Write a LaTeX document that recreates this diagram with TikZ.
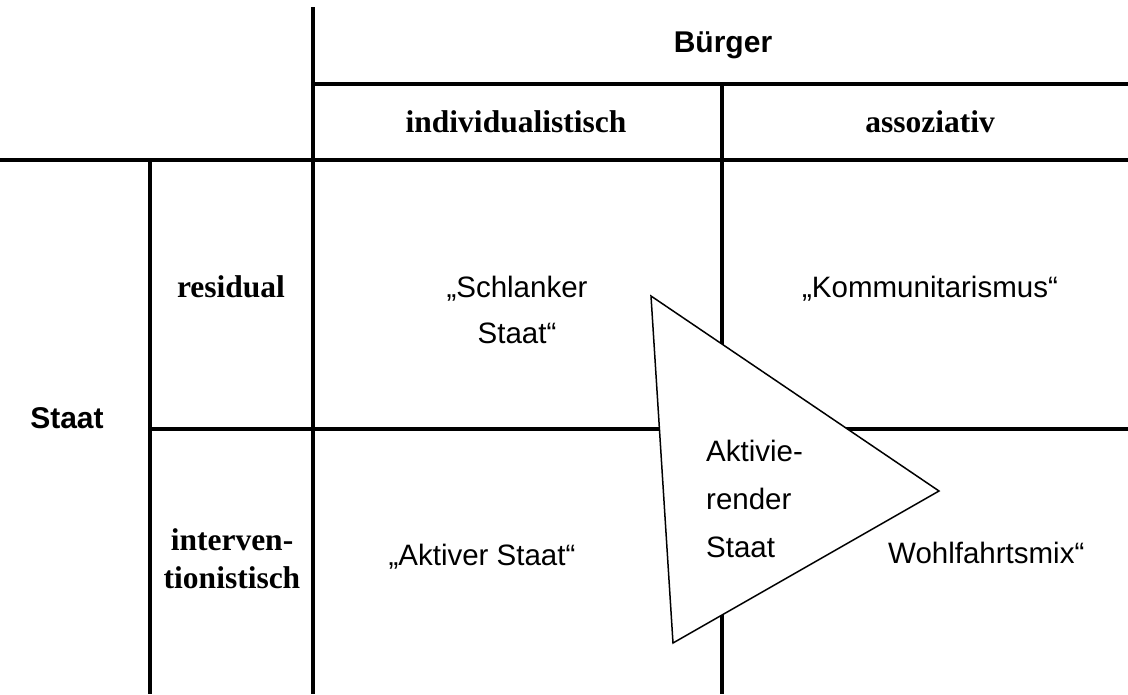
\documentclass[tikz,border=0pt]{standalone}
\usepackage{fontspec}
\setmainfont{Liberation Serif}
\setsansfont{Liberation Sans}
\usetikzlibrary{positioning}

\tikzset{
  gridline/.style={line width=4pt},
  axislabel/.style={font=\sffamily\bfseries\fontsize{30}{36}\selectfont, inner sep=0pt, anchor=base},
  typelabel/.style={font=\rmfamily\bfseries\fontsize{31.5}{38}\selectfont, inner sep=0pt, align=center, anchor=base},
  celltext/.style={font=\sffamily\fontsize{29.5}{46}\selectfont, inner sep=0pt, align=center, anchor=base},
}

\begin{document}
\begin{tikzpicture}[x=1pt,y=-1pt]
    \useasboundingbox (0,0) rectangle (1128,694);

    % Grid
    \draw[gridline] (313,7) -- (313,694);
    \draw[gridline] (313,84) -- (1128,84);
    \draw[gridline] (0,160) -- (1128,160);
    \draw[gridline] (150,160) -- (150,694);
    \draw[gridline] (150,429) -- (1128,429);
    \draw[gridline] (722,84) -- (722,694);

    % Headings
    \node[axislabel] (buerger) at (723,52) {Bürger};
    \node[axislabel] (staat) at (67,428) {Staat};
    \node[typelabel] (indiv) at (516,132) {individualistisch};
    \node[typelabel] (assoz) at (930,132) {assoziativ};
    \node[typelabel] (resid) at (231,297) {residual};
    \node[typelabel] (interv) at (232,588) {interven-\\tionistisch};

    % Cells
    \node[celltext] (schlank) at (517,343) {„Schlanker\\Staat“};
    \node[celltext] (kommun) at (930,297) {„Kommunitarismus“};
    \node[celltext] (aktiv) at (482,565) {„Aktiver Staat“};
    \node[celltext, anchor=base west] (wohlfahrt) at (888,563) {Wohlfahrtsmix“};

    % Triangle
    \coordinate (tritop) at (651,296);
    \coordinate (triright) at (939,491);
    \coordinate (tribottom) at (673,643);
    \draw[line width=1.5pt, fill=white, line join=miter] (tritop) -- (triright) -- (tribottom) -- cycle;
    \node[celltext, font=\sffamily\fontsize{29.5}{48}\selectfont, align=left, anchor=base west] (aktivierend) at (706,557) {Aktivie-\\render\\Staat};
\end{tikzpicture}
\end{document}
